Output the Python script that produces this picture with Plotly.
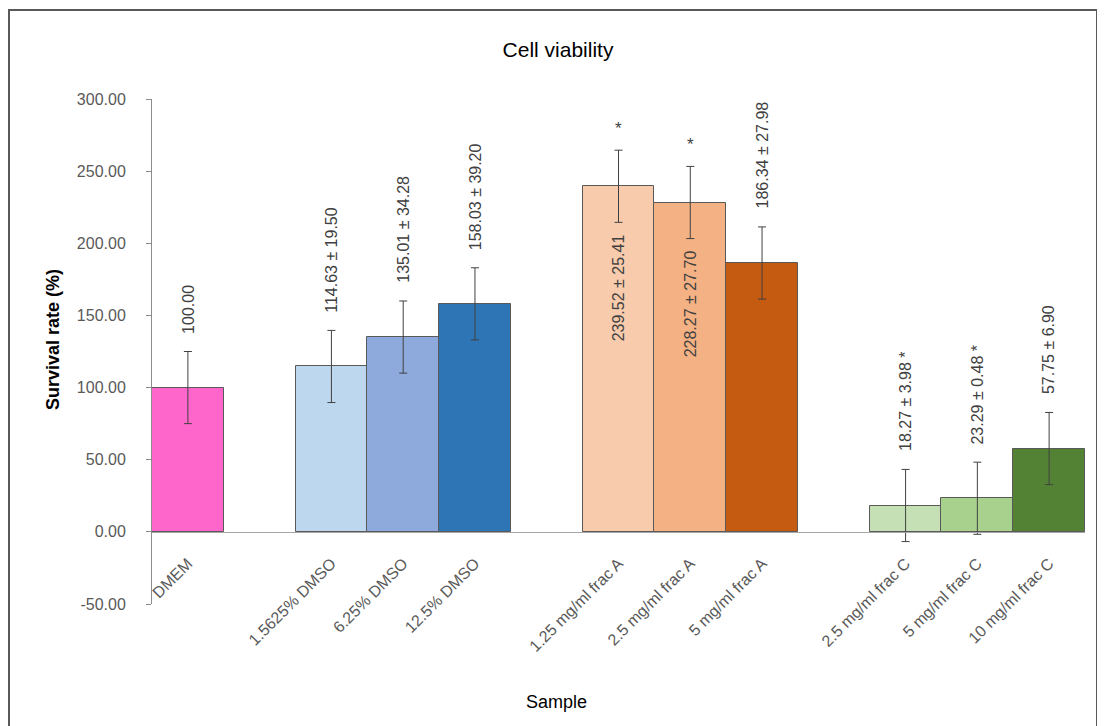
import plotly.graph_objects as go

# ---- data ----
categories = ["DMEM", "1.5625% DMSO", "6.25% DMSO", "12.5% DMSO",
              "1.25 mg/ml frac A", "2.5 mg/ml frac A", "5 mg/ml frac A",
              "2.5 mg/ml frac C", "5 mg/ml frac C", "10 mg/ml frac C"]
groups = [0, 1, 1, 1, 2, 2, 2, 3, 3, 3]
means = [100.00, 114.63, 135.01, 158.03, 239.52, 228.27, 186.34, 18.27, 23.29, 57.75]
sds = [None, 19.50, 34.28, 39.20, 25.41, 27.70, 27.98, 3.98, 0.48, 6.90]
error_bars = [25, 25, 25, 25, 25, 25, 25, 25, 25, 25]
significant = [False, False, False, False, True, True, False, True, True, False]
label_inside = [False, False, False, False, True, True, False, False, False, False]
colors = ["#FF66CC", "#BDD7EE", "#8EA9DB", "#2E75B6",
          "#F8CBAD", "#F4B183", "#C55A11",
          "#C5E0B4", "#A9D18E", "#548235"]
y_ticks = [-50, 0, 50, 100, 150, 200, 250, 300]
y_ticktext = [f"{v:.2f}" for v in y_ticks]

# slot positions: one empty slot between groups
xpos = [i + g for i, g in enumerate(groups)]

FONT = "Liberation Sans, Arial, sans-serif"
TXT = "#404040"

# page has an 8px body margin; figure is sized to fit the window
W, H = 1097, 718
L, R, T, B = 144, 20, 91, 122
PW, PH = W - L - R, H - T - B

fig = go.Figure()
fig.add_trace(go.Bar(
    x=xpos, y=means, width=1.0,
    marker=dict(color=colors, line=dict(color="#595959", width=1)),
    error_y=dict(type="data", array=error_bars, color="#404040",
                 thickness=1, width=4),
    hoverinfo="skip",
))

annotations = []
for x, m, s, e, sig, inside in zip(xpos, means, sds, error_bars, significant, label_inside):
    text = f"{m:.2f}" if s is None else f"{m:.2f} ± {s:.2f}"
    if inside:
        annotations.append(dict(x=x, y=m - e, xref="x", yref="y", text=text,
                                textangle=-90, showarrow=False, yanchor="top",
                                xanchor="center", yshift=-10,
                                font=dict(family=FONT, size=16, color=TXT)))
        if sig:
            annotations.append(dict(x=x, y=m + e, xref="x", yref="y", text="*",
                                    showarrow=False, yanchor="bottom",
                                    xanchor="center", yshift=10,
                                    font=dict(family=FONT, size=17, color=TXT)))
    else:
        if sig:
            text += " *"
        annotations.append(dict(x=x, y=m + e, xref="x", yref="y", text=text,
                                textangle=-90, showarrow=False, yanchor="bottom",
                                xanchor="center", yshift=16,
                                font=dict(family=FONT, size=16, color=TXT)))

# axis titles
annotations.append(dict(x=(45 - L) / PW, y=(PH + T - 332) / PH, xref="paper", yref="paper",
                        text="<b>Survival rate (%)</b>", textangle=-90,
                        showarrow=False, xanchor="center", yanchor="middle",
                        font=dict(family=FONT, size=18, color="#000000")))
annotations.append(dict(x=(548 - L) / PW, y=(PH + T - 694) / PH, xref="paper", yref="paper",
                        text="Sample", showarrow=False, xanchor="center",
                        yanchor="middle",
                        font=dict(family=FONT, size=18, color="#000000")))

y_lo, y_hi = -50, 300
fig.update_layout(
    width=W, height=H,
    margin=dict(l=L, r=R, t=T, b=B),
    paper_bgcolor="white", plot_bgcolor="white",
    showlegend=False,
    bargap=0,
    title=dict(text="Cell viability", xref="container", yref="container",
               x=550 / W, y=1 - 42 / H, xanchor="center", yanchor="middle",
               font=dict(family=FONT, size=21, color="#000000")),
    xaxis=dict(range=[-0.5, max(xpos) + 0.5], tickmode="array",
               tickvals=xpos, ticktext=categories, tickangle=-45,
               anchor="free", position=(0 - y_lo) / (y_hi - y_lo),
               showline=True, linecolor="#A6A6A6", linewidth=1,
               showgrid=False, zeroline=False, ticks="",
               ticklabelstandoff=15,
               tickfont=dict(family=FONT, size=16, color="#595959")),
    yaxis=dict(range=[y_lo, y_hi], tickmode="array", tickvals=y_ticks,
               ticktext=y_ticktext, showline=True, linecolor="#8C8C8C",
               linewidth=1, ticks="outside", ticklen=5, tickcolor="#8C8C8C",
               showgrid=False, zeroline=False, ticklabelstandoff=17,
               tickfont=dict(family=FONT, size=16, color="#595959")),
    annotations=annotations,
    shapes=[dict(type="rect", xref="paper", yref="paper",
                 x0=(1 - L) / PW, x1=(1089 - L) / PW,
                 y0=(PH + T - 760) / PH, y1=(PH + T - 2) / PH,
                 line=dict(color="#595959", width=2), layer="below")],
)

fig.write_html("out.html")
